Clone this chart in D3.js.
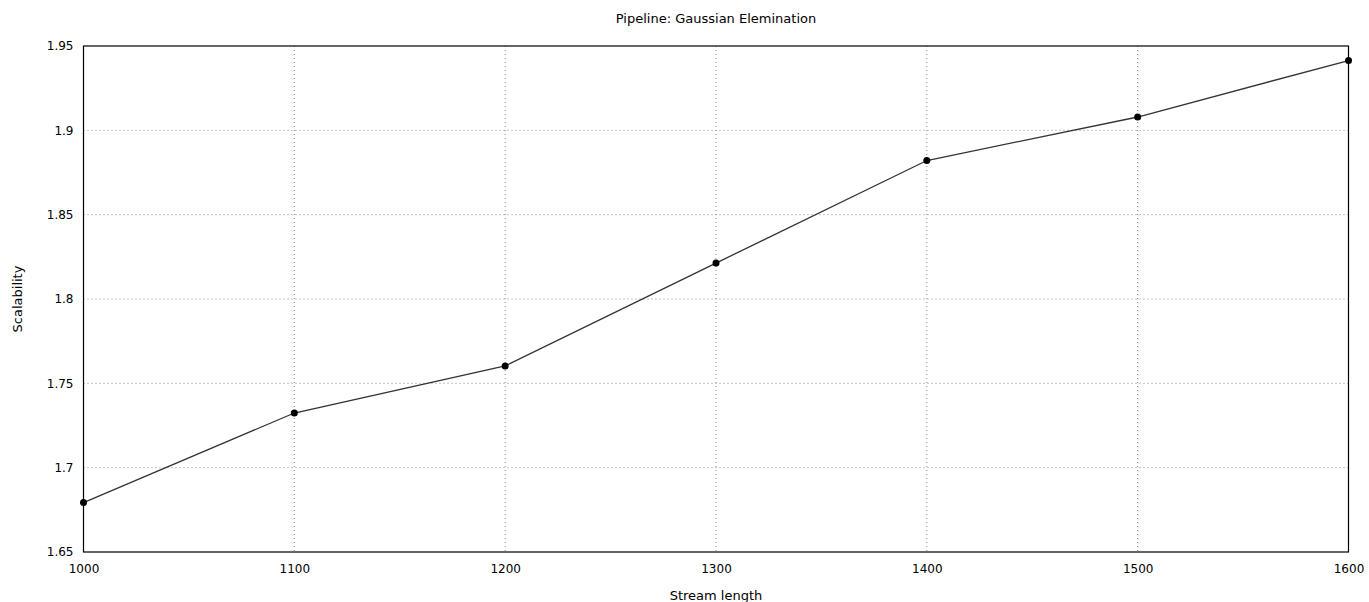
<!DOCTYPE html>
<html>
<head>
<meta charset="utf-8">
<script src="https://cdn.jsdelivr.net/npm/d3@7"></script>
<style>
  html, body { margin: 0; padding: 0; background: #fff; }
  svg { display: block; font-family: "DejaVu Sans", sans-serif; }
</style>
</head>
<body>
<svg id="chart" width="1369" height="602"></svg>
<script>
// Stream length vs. scalability for the Gaussian elimination pipeline
const streamLengths = [1000, 1100, 1200, 1300, 1400, 1500, 1600];
const scalability = [1.6793, 1.7324, 1.7603, 1.8213, 1.8821, 1.9079, 1.9414];
const xTicks = [1000, 1100, 1200, 1300, 1400, 1500, 1600];
const yTicks = [1.65, 1.7, 1.75, 1.8, 1.85, 1.9, 1.95];

const svg = d3.select("#chart");
const margin = { left: 83.5, right: 20.5, top: 46, bottom: 50 };
const W = 1369, H = 602;
const innerW = W - margin.left - margin.right;
const innerH = H - margin.top - margin.bottom;

const x = d3.scaleLinear().domain([1000, 1600]).range([0, innerW]);
const y = d3.scaleLinear().domain([1.65, 1.95]).range([innerH, 0]);

const g = svg.append("g").attr("transform", `translate(${margin.left},${margin.top})`);

// dotted grid
g.append("g").selectAll("line").data(xTicks.slice(1, -1)).join("line")
  .attr("x1", d => x(d)).attr("x2", d => x(d))
  .attr("y1", 0).attr("y2", innerH)
  .attr("stroke", "#888").attr("stroke-width", 1).attr("stroke-dasharray", "1,3");
g.append("g").selectAll("line").data(yTicks.slice(1, -1)).join("line")
  .attr("x1", 0).attr("x2", innerW)
  .attr("y1", d => y(d)).attr("y2", d => y(d))
  .attr("stroke", "#888").attr("stroke-width", 1).attr("stroke-dasharray", "1,3");

// axes (labels only, no tick marks)
const xAxis = g.append("g").attr("transform", `translate(0,${innerH})`)
  .call(d3.axisBottom(x).tickValues(xTicks).tickSize(0).tickPadding(12).tickFormat(d3.format("d")));
const yAxis = g.append("g")
  .call(d3.axisLeft(y).tickValues(yTicks).tickSize(0).tickPadding(10).tickFormat(d => d3.format("")(+d.toFixed(2))));
[xAxis, yAxis].forEach(a => {
  a.select(".domain").remove();
  a.selectAll("text").attr("font-size", 12).attr("fill", "#000").attr("font-family", "DejaVu Sans, sans-serif");
});

// plot frame
g.append("rect").attr("x", 0).attr("y", 0).attr("width", innerW).attr("height", innerH)
  .attr("fill", "none").attr("stroke", "#000").attr("stroke-width", 1.2);

// series
const line = d3.line().x((d, i) => x(streamLengths[i])).y(d => y(d));
g.append("path").datum(scalability).attr("d", line)
  .attr("fill", "none").attr("stroke", "#333").attr("stroke-width", 1.3);
g.append("g").selectAll("circle").data(scalability).join("circle")
  .attr("cx", (d, i) => x(streamLengths[i])).attr("cy", d => y(d)).attr("r", 3.5)
  .attr("fill", "#000");

// title and axis titles
svg.append("text").attr("x", margin.left + innerW / 2).attr("y", 23)
  .attr("text-anchor", "middle").attr("font-size", 13).text("Pipeline: Gaussian Elemination");
svg.append("text").attr("x", margin.left + innerW / 2).attr("y", 600)
  .attr("text-anchor", "middle").attr("font-size", 13).text("Stream length");
svg.append("text").attr("transform", `translate(22,${margin.top + innerH / 2}) rotate(-90)`)
  .attr("text-anchor", "middle").attr("font-size", 13).text("Scalability");
</script>
</body>
</html>
